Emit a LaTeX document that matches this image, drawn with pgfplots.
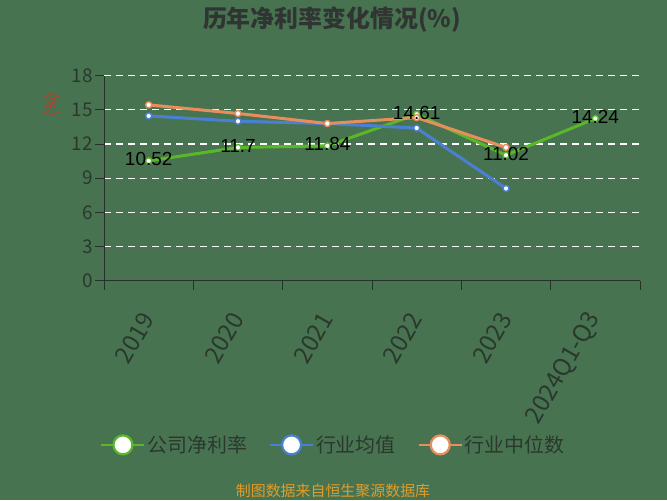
\documentclass[border=0pt]{standalone}
\usepackage{fontspec}
\setmainfont{Noto Sans CJK SC}
\newfontfamily\numfont{Liberation Sans}
\usepackage{pgfplots}
\pgfplotsset{compat=1.18}
\definecolor{bg}{RGB}{72,115,80}
\definecolor{axisc}{RGB}{38,50,40}
\definecolor{tickc}{RGB}{42,56,46}
\definecolor{titlec}{RGB}{48,52,50}
\definecolor{cgreen}{RGB}{88,184,42}
\definecolor{cblue}{RGB}{74,128,210}
\definecolor{corange}{RGB}{232,142,92}
\definecolor{yred}{RGB}{214,48,36}
\definecolor{footc}{RGB}{226,156,40}
\begin{document}
\begin{tikzpicture}[x=1bp,y=1bp]
\fill[bg] (0,0) rectangle (667,500);
\node[font=\fontsize{24}{24}\selectfont\bfseries, text=titlec] at (332,480) {历年净利率变化情况(\%)};
\node[font=\fontsize{15}{15}\selectfont, text=yred, rotate=90] at (52,395) {(\%)};
\node[font=\fontsize{15}{15}\selectfont, text=footc] at (333,9.5) {制图数据来自恒生聚源数据库};
\begin{axis}[
  at={(104bp,219.3bp)}, anchor=south west,
  scale only axis, width=536bp, height=205bp,
  xmin=-0.5, xmax=5.5, ymin=0, ymax=18,
  axis x line=bottom, axis y line=left,
  axis line style={-, draw=axisc, line width=1bp},
  xtick={0,1,2,3,4,5},
  xticklabels={2019,2020,2021,2022,2023,2024Q1-Q3},
  minor xtick={-0.5,0.5,1.5,2.5,3.5,4.5,5.5},
  xtick style={draw=none},
  minor x tick style={draw=axisc, line width=1bp},
  ytick={0,3,6,9,12,15,18},
  ytick style={draw=axisc, line width=1bp},
  tick align=outside,
  major tick length=9bp, minor tick length=9bp,
  ymajorgrids,
  grid style={white, line width=1.2bp, dash pattern=on 7bp off 5bp},
  /pgf/number format/assume math mode=true,
  ticklabel style={font=\fontsize{19}{19}\selectfont, text=tickc},
  xticklabel style={xshift=-0.5bp, yshift=-25bp, rotate=60, anchor=east, inner sep=0pt, font=\fontsize{24}{24}\selectfont},
  yticklabel style={inner sep=2pt},
  legend columns=3,
  legend style={at={(0.428,-0.801)}, anchor=center, draw=none, fill=none,
    font=\fontsize{20}{20}\selectfont, text=tickc,
    /tikz/every even column/.append style={column sep=20bp}},
  legend image code/.code={
    \draw[#1, mark=none, line width=2bp] (0bp,0bp) -- (43bp,0bp);
    \draw[#1, mark=none, fill=white, line width=2.2bp] (21.5bp,0bp) circle (9.5bp);
  },
]
\addplot[cgreen, line width=3bp, mark=*, mark size=3bp, mark options={fill=white, draw=cgreen, line width=1.4bp}]
  coordinates {(0,10.52) (1,11.7) (2,11.84) (3,14.61) (4,11.02) (5,14.24)};
\addlegendentry{公司净利率}
\addplot[cblue, line width=3bp, mark=*, mark size=3bp, mark options={fill=white, draw=cblue, line width=1.4bp}]
  coordinates {(0,14.47) (1,14.0) (2,13.8) (3,13.4) (4,8.1)};
\addlegendentry{行业均值}
\addplot[corange, line width=3bp, mark=*, mark size=3bp, mark options={fill=white, draw=corange, line width=1.4bp}]
  coordinates {(0,15.44) (1,14.68) (2,13.8) (3,14.32) (4,11.7)};
\addlegendentry{行业中位数}
\addplot[draw=none, mark=none, forget plot, point meta=explicit symbolic,
  nodes near coords,
  every node near coord/.style={anchor=center, yshift=1.5bp, text=black, font=\numfont\fontsize{19}{19}\selectfont}]
  coordinates {(0,10.52)[10.52] (1,11.7)[11.7] (2,11.84)[11.84] (3,14.61)[14.61] (4,11.02)[11.02] (5,14.24)[14.24]};
\end{axis}
\end{tikzpicture}
\end{document}
